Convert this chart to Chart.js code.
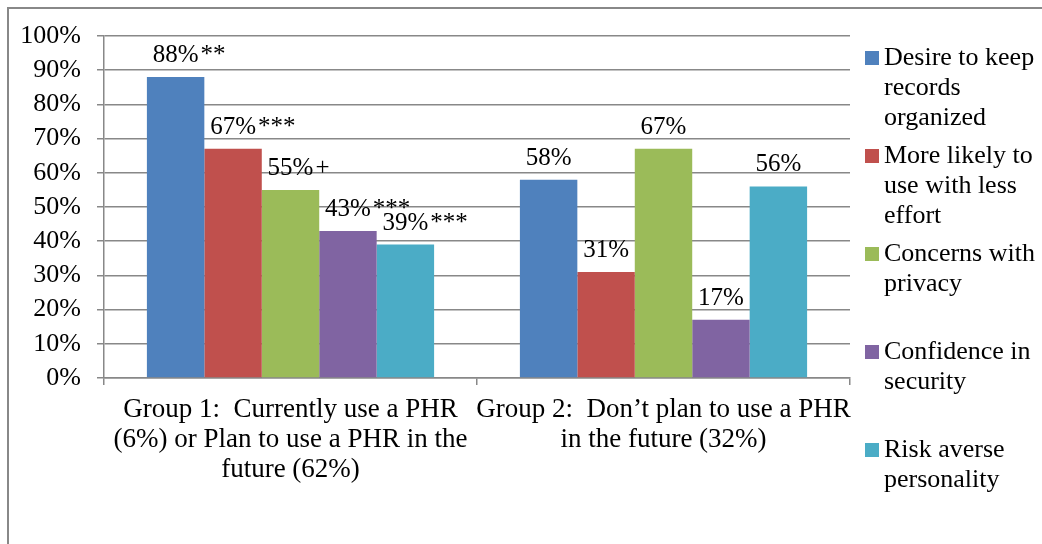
<!DOCTYPE html>
<html>
<head>
<meta charset="utf-8">
<script src="https://cdn.jsdelivr.net/npm/chart.js@4.4.0/dist/chart.umd.min.js"></script>
<style>
  body { margin: 0; background: #fff; }
  #wrap { position: relative; width: 1042px; height: 544px; }
</style>
</head>
<body>
<div id="wrap"><canvas id="chart" width="1042" height="544"></canvas></div>
<script>
const categories = [
  ["Group 1:  Currently use a PHR", "(6%) or Plan to use a PHR in the", "future (62%)"],
  ["Group 2:  Don\u2019t plan to use a PHR", "in the future (32%)"]
];
const seriesNames = [
  ["Desire to keep", "records", "organized"],
  ["More likely to", "use with less", "effort"],
  ["Concerns with", "privacy"],
  ["Confidence in", "security"],
  ["Risk averse", "personality"]
];
const seriesColors = ["#4F81BD", "#C0504D", "#9BBB59", "#8064A2", "#4BACC6"];
const organized = [88, 58];
const lessEffort = [67, 31];
const privacy = [55, 67];
const security = [43, 17];
const riskAverse = [39, 56];
const significance = [
  ["**", ""],
  ["***", ""],
  ["+", ""],
  ["***", ""],
  ["***", ""]
];
const yTicks = [0, 10, 20, 30, 40, 50, 60, 70, 80, 90, 100];

const serif = "'Liberation Serif', 'Times New Roman', serif";
const gray = "#888888";

const values = [organized, lessEffort, privacy, security, riskAverse];

const framePlugin = {
  id: "frame",
  beforeDraw(chart) {
    const ctx = chart.ctx;
    ctx.save();
    ctx.strokeStyle = gray;
    ctx.lineWidth = 2;
    ctx.beginPath();
    ctx.moveTo(8, chart.height);
    ctx.lineTo(8, 8);
    ctx.lineTo(chart.width, 8);
    ctx.stroke();
    ctx.restore();
  }
};

const labelPlugin = {
  id: "barLabels",
  afterDatasetsDraw(chart) {
    const ctx = chart.ctx;
    ctx.save();
    ctx.font = "25px " + serif;
    ctx.fillStyle = "#000";
    ctx.textBaseline = "alphabetic";
    chart.data.datasets.forEach((ds, i) => {
      chart.getDatasetMeta(i).data.forEach((bar, j) => {
        const num = ds.data[j] + "%";
        const w = ctx.measureText(num).width;
        const y = bar.y - 15;
        ctx.textAlign = "left";
        ctx.fillText(num, bar.x - w / 2, y);
        const suffix = significance[i][j];
        if (suffix) ctx.fillText(suffix, bar.x + w / 2 + 2, y);
      });
    });
    ctx.restore();
  }
};

const legendPlugin = {
  id: "sideLegend",
  afterDraw(chart) {
    const ctx = chart.ctx;
    ctx.save();
    ctx.font = "26px " + serif;
    ctx.textBaseline = "middle";
    ctx.textAlign = "left";
    chart.data.datasets.forEach((ds, i) => {
      const cy = 58 + i * 98;
      ctx.fillStyle = ds.backgroundColor;
      ctx.fillRect(865, cy - 7, 14, 14);
      ctx.fillStyle = "#000";
      ds.label.forEach((line, k) => {
        ctx.fillText(line, 884, cy + k * 30);
      });
    });
    ctx.restore();
  }
};

new Chart(document.getElementById("chart"), {
  type: "bar",
  data: {
    labels: categories,
    datasets: values.map((v, i) => ({
      label: seriesNames[i],
      data: v,
      backgroundColor: seriesColors[i],
      borderWidth: 0
    }))
  },
  options: {
    responsive: false,
    animation: false,
    events: [],
    layout: { padding: { left: 0, top: 36, right: 192, bottom: 0 } },
    datasets: { bar: { barPercentage: 1, categoryPercentage: 0.77 } },
    plugins: { legend: { display: false }, tooltip: { enabled: false } },
    scales: {
      x: {
        grid: { offset: true, drawOnChartArea: false, tickLength: 7, color: gray, lineWidth: 1.5 },
        border: { color: gray, width: 1.5 },
        ticks: {
          color: "#000",
          font: { family: serif, size: 27, lineHeight: "30px" },
          padding: 10,
          maxRotation: 0,
          autoSkip: false
        },
        afterFit(scale) { scale.height = 166; }
      },
      y: {
        min: 0,
        max: 100,
        afterBuildTicks(scale) { scale.ticks = yTicks.map(v => ({ value: v })); },
        grid: { color: gray, lineWidth: 1.5, tickLength: 7 },
        border: { color: gray, width: 1.5 },
        ticks: {
          color: "#000",
          font: { family: serif, size: 26 },
          padding: 16,
          callback: v => v + "%"
        },
        afterFit(scale) { scale.width = 104; }
      }
    }
  },
  plugins: [framePlugin, labelPlugin, legendPlugin]
});
</script>
</body>
</html>
